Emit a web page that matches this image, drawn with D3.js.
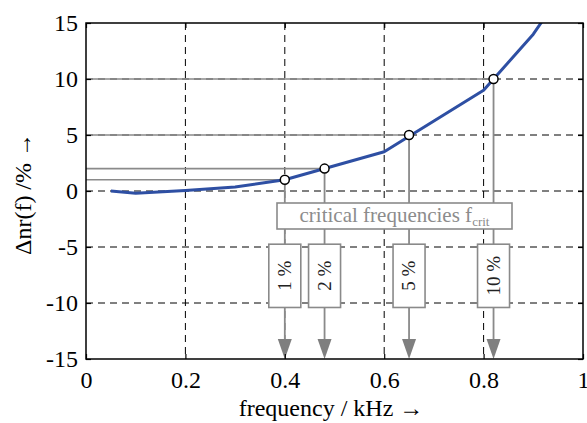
<!DOCTYPE html>
<html>
<head>
<meta charset="utf-8">
<script src="https://cdn.jsdelivr.net/npm/d3@7"></script>
<style>
  body { margin: 0; background: #fff; }
  svg { display: block; }
  svg text { font-family: "Liberation Serif", "Times New Roman", Times, serif; }
</style>
</head>
<body>
<svg id="chart" width="587" height="423"></svg>
<script>
// measured deviation curve
var freq = [0.05, 0.1, 0.2, 0.3, 0.4, 0.5, 0.6, 0.7, 0.8, 0.9, 1.0];
var deltaNr = [0, -0.2, 0.05, 0.35, 1, 2.25, 3.5, 6.25, 9, 14, 20.5];

// critical frequencies for each deviation level
var critLevels = [1, 2, 5, 10];
var critFreqs = [0.4, 0.48, 0.65, 0.82];
var critLabels = ["1 %", "2 %", "5 %", "10 %"];

var xTicks = [0, 0.2, 0.4, 0.6, 0.8, 1];
var yTicks = [-15, -10, -5, 0, 5, 10, 15];

var margin = {top: 23, right: 4, bottom: 64, left: 86};
var W = 587, H = 423;
var w = W - margin.left - margin.right,
    h = H - margin.top - margin.bottom;

var svg = d3.select("#chart");
var g = svg.append("g").attr("transform", "translate(" + margin.left + "," + margin.top + ")");

var x = d3.scaleLinear().domain([0, 1]).range([0, w]);
var y = d3.scaleLinear().domain([-15, 15]).range([h, 0]);

var grey = "#8a8a8a";

svg.append("defs").append("clipPath").attr("id", "plotClip")
  .append("rect").attr("width", w).attr("height", h);

// dashed grid
g.append("g").selectAll("line")
  .data(xTicks.filter(function (d) { return d > 0 && d < 1; }))
  .enter().append("line")
  .attr("x1", x).attr("x2", x)
  .attr("y1", 0).attr("y2", h)
  .attr("stroke", "#000").attr("stroke-width", 1)
  .attr("stroke-dasharray", "7,5");

g.append("g").selectAll("line")
  .data(yTicks.filter(function (d) { return d > -15 && d < 15; }))
  .enter().append("line")
  .attr("x1", 0).attr("x2", w)
  .attr("y1", y).attr("y2", y)
  .attr("stroke", "#000").attr("stroke-width", 1)
  .attr("stroke-dasharray", "7,5");

// guide lines from the y axis to each critical point
g.append("g").selectAll("line")
  .data(critLevels)
  .enter().append("line")
  .attr("x1", 0)
  .attr("x2", function (d, i) { return x(critFreqs[i]); })
  .attr("y1", y).attr("y2", y)
  .attr("stroke", grey).attr("stroke-width", 1.6);

// label box geometry
var boxTop = y(-4.75), boxBot = y(-10.4), boxW = 32;
var critBox = {x0: 277 - margin.left, x1: 512 - margin.left, y0: 203 - margin.top, y1: 229 - margin.top};
var arrowLen = 20, arrowW = 14;

// vertical drop lines
var drops = g.append("g");
critLevels.forEach(function (lvl, i) {
  var cx = x(critFreqs[i]);
  drops.append("line")
    .attr("x1", cx).attr("x2", cx)
    .attr("y1", y(lvl)).attr("y2", h - arrowLen)
    .attr("stroke", grey).attr("stroke-width", 1.8);
  drops.append("path")
    .attr("d", "M" + (cx - arrowW / 2) + "," + (h - arrowLen) + "L" + (cx + arrowW / 2) + "," + (h - arrowLen) + "L" + cx + "," + h + "Z")
    .attr("fill", "#7f7f7f");
});

// critical frequency box
g.append("rect")
  .attr("x", critBox.x0).attr("y", critBox.y0)
  .attr("width", critBox.x1 - critBox.x0).attr("height", critBox.y1 - critBox.y0)
  .attr("fill", "#fff").attr("stroke", grey).attr("stroke-width", 1.6);

var ct = g.append("text")
  .attr("x", (critBox.x0 + critBox.x1) / 2)
  .attr("y", critBox.y1 - 7)
  .attr("text-anchor", "middle")
  .attr("fill", "#8c8c8c")
  .style("font-size", "21px");
ct.append("tspan").text("critical frequencies f");
ct.append("tspan").attr("dy", 4).style("font-size", "13px").text("crit");

// percentage boxes
var pb = g.append("g").selectAll("g")
  .data(critLabels)
  .enter().append("g")
  .attr("transform", function (d, i) { return "translate(" + x(critFreqs[i]) + ",0)"; });

pb.append("rect")
  .attr("x", -boxW / 2).attr("y", boxTop)
  .attr("width", boxW).attr("height", boxBot - boxTop)
  .attr("fill", "#fff").attr("stroke", grey).attr("stroke-width", 1.6);

pb.append("text")
  .attr("transform", "translate(6," + ((boxTop + boxBot) / 2) + ") rotate(-90)")
  .attr("text-anchor", "middle")
  .attr("fill", "#222")
  .style("font-size", "19px")
  .text(function (d) { return d; });

// deviation curve
var line = d3.line()
  .x(function (d, i) { return x(freq[i]); })
  .y(function (d) { return y(d); });

g.append("path")
  .datum(deltaNr)
  .attr("clip-path", "url(#plotClip)")
  .attr("fill", "none")
  .attr("stroke", "#2e4fa3")
  .attr("stroke-width", 3)
  .attr("stroke-linejoin", "round")
  .attr("d", line);

// critical points
g.append("g").selectAll("circle")
  .data(critLevels)
  .enter().append("circle")
  .attr("cx", function (d, i) { return x(critFreqs[i]); })
  .attr("cy", y)
  .attr("r", 4.5)
  .attr("fill", "#fff")
  .attr("stroke", "#000")
  .attr("stroke-width", 1.5);

// axes with inward ticks on all four sides
function styleAxis(sel) {
  sel.attr("font-family", null).attr("font-size", 24);
  sel.select(".domain").remove();
  sel.selectAll(".tick line").attr("stroke", "#000").attr("stroke-width", 1.2);
  sel.selectAll(".tick text").attr("fill", "#000");
}

g.append("g").attr("transform", "translate(0," + h + ")")
  .call(d3.axisBottom(x).tickValues(xTicks).tickSizeInner(-5).tickPadding(12)
    .tickFormat(function (d) { return d === 0 || d === 1 ? String(d) : d3.format(".1f")(d); }))
  .call(styleAxis);

g.append("g")
  .call(d3.axisLeft(y).tickValues(yTicks).tickSizeInner(-5).tickPadding(8)
    .tickFormat(function (d) { return String(d); }))
  .call(styleAxis);

g.append("g").attr("transform", "translate(" + w + ",0)")
  .call(d3.axisRight(y).tickValues(yTicks).tickSizeInner(-5).tickFormat(""))
  .call(styleAxis);

g.append("g")
  .call(d3.axisTop(x).tickValues(xTicks).tickSizeInner(-5).tickFormat(""))
  .call(styleAxis);

g.append("rect")
  .attr("width", w).attr("height", h)
  .attr("fill", "none").attr("stroke", "#000").attr("stroke-width", 1.5);

// axis titles
svg.append("text")
  .attr("x", 331)
  .attr("y", 416)
  .attr("text-anchor", "middle")
  .style("font-size", "24px")
  .text("frequency / kHz \u2192");

svg.append("text")
  .attr("transform", "translate(31," + 194 + ") rotate(-90)")
  .attr("text-anchor", "middle")
  .style("font-size", "24px")
  .text("\u0394nr(f) /% \u2192");
</script>
</body>
</html>
